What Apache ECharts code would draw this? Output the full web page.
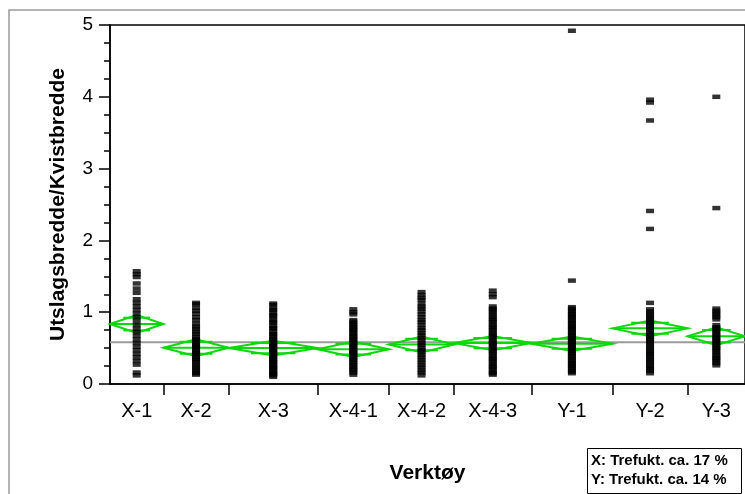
<!DOCTYPE html>
<html>
<head>
<meta charset="utf-8">
<script src="https://cdn.jsdelivr.net/npm/echarts@6/dist/echarts.min.js"></script>
<style>
  html, body { margin: 0; padding: 0; background: #fff; }
  #chart { width: 745px; height: 494px; }
</style>
</head>
<body>
<div id="chart"></div>
<script>
// Tool groups along the x axis
const groupNames = ['X-1', 'X-2', 'X-3', 'X-4-1', 'X-4-2', 'X-4-3', 'Y-1', 'Y-2', 'Y-3'];

// Individual measurements (Utslagsbredde/Kvistbredde) per tool
const valsX1 = [1.57, 1.53, 1.49, 1.40, 1.33, 1.27, 1.18, 1.13, 1.08, 1.03, 0.98, 0.93, 0.88, 0.82,
  0.77, 0.72, 0.67, 0.62, 0.57, 0.52, 0.47, 0.42, 0.37, 0.32, 0.27, 0.16, 0.12];
const valsX2 = [1.13, 1.11, 1.06, 1.02, 0.98, 0.93, 0.89, 0.84, 0.80, 0.77, 0.73, 0.70, 0.66, 0.63,
  0.61, 0.58, 0.55, 0.53, 0.51, 0.48, 0.46, 0.43, 0.41, 0.38, 0.35, 0.33, 0.30, 0.27, 0.24, 0.21,
  0.18, 0.15, 0.13];
const valsX3 = [1.12, 1.10, 1.05, 1.03, 0.99, 0.96, 0.94, 0.90, 0.87, 0.85, 0.81, 0.78, 0.77, 0.73,
  0.70, 0.69, 0.66, 0.63, 0.62, 0.59, 0.57, 0.56, 0.53, 0.51, 0.50, 0.47, 0.45, 0.44, 0.41, 0.39,
  0.38, 0.35, 0.33, 0.31, 0.30, 0.27, 0.25, 0.23, 0.22, 0.19, 0.17, 0.15, 0.14, 0.12, 0.10];
const valsX41 = [1.04, 1.00, 0.97, 0.89, 0.87, 0.84, 0.82, 0.79, 0.77, 0.75, 0.72, 0.70, 0.67, 0.65,
  0.63, 0.61, 0.58, 0.56, 0.54, 0.52, 0.49, 0.47, 0.45, 0.43, 0.41, 0.38, 0.36, 0.34, 0.31, 0.29,
  0.26, 0.24, 0.21, 0.19, 0.16, 0.13];
const valsX42 = [1.28, 1.24, 1.20, 1.17, 1.12, 1.08, 1.05, 1.01, 0.97, 0.93, 0.89, 0.86, 0.82, 0.78,
  0.75, 0.71, 0.68, 0.64, 0.61, 0.57, 0.54, 0.50, 0.47, 0.44, 0.40, 0.37, 0.33, 0.30, 0.26, 0.23,
  0.19, 0.16, 0.12];
const valsX43 = [1.30, 1.25, 1.21, 1.08, 1.05, 1.03, 1.00, 0.97, 0.94, 0.91, 0.89, 0.86, 0.83, 0.80,
  0.78, 0.75, 0.72, 0.69, 0.67, 0.64, 0.61, 0.58, 0.56, 0.53, 0.50, 0.47, 0.45, 0.42, 0.39, 0.36,
  0.34, 0.31, 0.28, 0.25, 0.23, 0.20, 0.17, 0.15, 0.13];
const valsY1 = [4.92, 1.44, 1.07, 1.05, 1.02, 1.00, 0.97, 0.95, 0.93, 0.90, 0.88, 0.85, 0.83, 0.80,
  0.78, 0.76, 0.73, 0.71, 0.68, 0.66, 0.63, 0.61, 0.59, 0.56, 0.54, 0.51, 0.49, 0.46, 0.44, 0.42,
  0.39, 0.37, 0.34, 0.32, 0.29, 0.27, 0.25, 0.22, 0.20, 0.17, 0.15];
const valsY2 = [3.96, 3.92, 3.67, 2.41, 2.16, 1.13, 1.04, 1.01, 0.98, 0.95, 0.92, 0.89, 0.86, 0.84,
  0.81, 0.78, 0.75, 0.72, 0.69, 0.66, 0.63, 0.61, 0.58, 0.55, 0.52, 0.49, 0.46, 0.43, 0.41, 0.38,
  0.35, 0.32, 0.29, 0.26, 0.23, 0.21, 0.18, 0.15];
const valsY3 = [4.00, 2.45, 1.05, 1.02, 0.99, 0.96, 0.93, 0.90, 0.82, 0.79, 0.77, 0.74, 0.71, 0.68,
  0.65, 0.63, 0.60, 0.57, 0.54, 0.51, 0.49, 0.46, 0.43, 0.40, 0.37, 0.35, 0.32, 0.29, 0.26];

// Group means and half-widths of the 95% confidence interval (means diamonds)
const groupMeans = [0.835, 0.505, 0.500, 0.485, 0.550, 0.570, 0.560, 0.775, 0.665];
const ciHalf = [0.125, 0.118, 0.102, 0.107, 0.112, 0.100, 0.100, 0.108, 0.124];
const grandMean = 0.58;

// Legend note
const noteLines = ['X: Trefukt. ca. 17 %', 'Y: Trefukt. ca. 14 %'];

const groupValues = [valsX1, valsX2, valsX3, valsX41, valsX42, valsX43, valsY1, valsY2, valsY3];

// Each group's width on the x axis is proportional to its number of observations
const counts = groupValues.map(a => a.length);
const bounds = [0];
counts.forEach(n => bounds.push(bounds[bounds.length - 1] + n));
const total = bounds[bounds.length - 1];
const centers = counts.map((n, i) => bounds[i] + n / 2);

const pointData = [];
groupValues.forEach((arr, i) => arr.forEach(v => pointData.push([centers[i], v])));

const FONT = '"Liberation Sans", Arial, Helvetica, sans-serif';
const GREEN = '#0bd80b';

function renderDiamond(params, api) {
  const i = api.value(2);
  const x0 = bounds[i], x1 = bounds[i + 1];
  const xm = (x0 + x1) / 2;
  const m = groupMeans[i], h = ciHalf[i];
  const ov = h * Math.SQRT2 / 2;
  const pL = api.coord([x0, m]);
  const pR = api.coord([x1, m]);
  const pT = api.coord([xm, m + h]);
  const pB = api.coord([xm, m - h]);
  const q0 = api.coord([x0 + (x1 - x0) * 0.25, m + ov]);
  const q1 = api.coord([x1 - (x1 - x0) * 0.25, m + ov]);
  const r0 = api.coord([x0 + (x1 - x0) * 0.25, m - ov]);
  const r1 = api.coord([x1 - (x1 - x0) * 0.25, m - ov]);
  const st = { stroke: GREEN, fill: null, lineWidth: 2 };
  return {
    type: 'group',
    children: [
      { type: 'polygon', shape: { points: [pL, pT, pR, pB] }, style: st },
      { type: 'line', shape: { x1: pL[0], y1: pL[1], x2: pR[0], y2: pR[1] }, style: st },
      { type: 'line', shape: { x1: q0[0], y1: q0[1], x2: q1[0], y2: q1[1] }, style: st },
      { type: 'line', shape: { x1: r0[0], y1: r0[1], x2: r1[0], y2: r1[1] }, style: st }
    ]
  };
}

const chart = echarts.init(document.getElementById('chart'), null, { renderer: 'canvas' });

const option = {
  animation: false,
  backgroundColor: '#fff',
  grid: {
    left: 110, top: 25, width: 640, height: 359,
    show: true, borderColor: '#000', borderWidth: 1.5, backgroundColor: 'transparent',
    containLabel: false
  },
  xAxis: {
    type: 'value', min: 0, max: total,
    name: 'Verktøy', nameLocation: 'middle', nameGap: 79,
    nameTextStyle: { fontFamily: FONT, fontSize: 21, fontWeight: 'bold', color: '#000' },
    axisLine: { show: true, onZero: false, lineStyle: { color: '#000', width: 1.5 } },
    axisTick: { show: true, customValues: bounds.slice(1, -1), length: 11, lineStyle: { color: '#000', width: 1.5 } },
    axisLabel: {
      customValues: centers,
      formatter: v => {
        const i = centers.findIndex(c => Math.abs(c - v) < 1e-6);
        return i >= 0 ? groupNames[i] : '';
      },
      fontFamily: FONT, fontSize: 20, color: '#000', margin: 17
    },
    splitLine: { show: false }
  },
  yAxis: {
    type: 'value', min: 0, max: 5, interval: 1,
    name: 'Utslagsbredde/Kvistbredde', nameLocation: 'middle', nameGap: 41, nameRotate: 90,
    nameTextStyle: { fontFamily: FONT, fontSize: 21, fontWeight: 'bold', color: '#000' },
    axisLine: { show: true, lineStyle: { color: '#000', width: 1.5 } },
    axisTick: { show: true, length: 11, lineStyle: { color: '#000', width: 1.5 } },
    minorTick: { show: true, splitNumber: 4, length: 6, lineStyle: { color: '#000', width: 1.5 } },
    axisLabel: { fontFamily: FONT, fontSize: 19, color: '#000', margin: 17 },
    splitLine: { show: false },
    minorSplitLine: { show: false }
  },
  series: [
    {
      type: 'line', silent: true, z: 1,
      data: [[0, grandMean], [total, grandMean]],
      symbol: 'none', lineStyle: { color: '#9a9a9a', width: 2 }
    },
    {
      type: 'custom', z: 2, silent: true,
      renderItem: renderDiamond,
      encode: { x: 0, y: 1 },
      data: groupNames.map((n, i) => [centers[i], groupMeans[i], i])
    },
    {
      type: 'scatter', z: 3, silent: true,
      data: pointData,
      symbol: 'rect', symbolSize: [8, 4.5],
      itemStyle: { color: '#000' }
    }
  ],
  graphic: [
    {
      type: 'rect', z: -10, silent: true,
      shape: { x: 9, y: 10, width: 1000, height: 1000 },
      style: { fill: null, stroke: '#9a9a9a', lineWidth: 1.5 }
    },
    {
      type: 'rect', z: 10, silent: true,
      shape: { x: 587.5, y: 448.5, width: 154, height: 45 },
      style: { fill: '#fff', stroke: '#000', lineWidth: 1 }
    },
    {
      type: 'text', z: 11, silent: true,
      style: { text: noteLines[0], x: 591, y: 461, verticalAlign: 'middle', fill: '#000',
        font: 'bold 15px ' + FONT }
    },
    {
      type: 'text', z: 11, silent: true,
      style: { text: noteLines[1], x: 591, y: 479.5, verticalAlign: 'middle', fill: '#000',
        font: 'bold 15px ' + FONT }
    }
  ]
};

chart.setOption(option);
</script>
</body>
</html>
